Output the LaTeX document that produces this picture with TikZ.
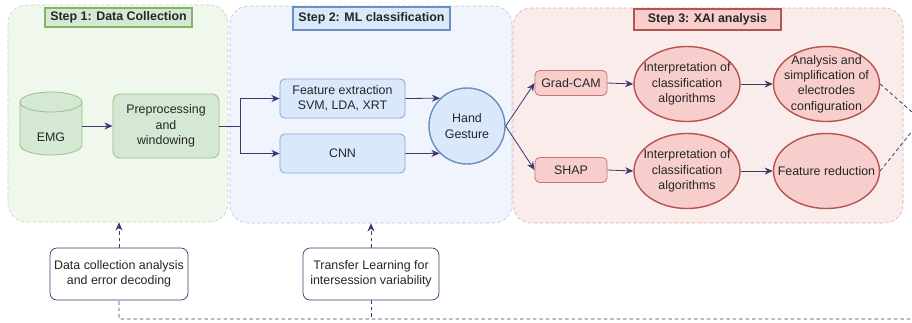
\documentclass[tikz,border=0pt]{standalone}
\usepackage{fontspec}
\setmainfont{Liberation Sans}
\usetikzlibrary{shapes.geometric,arrows.meta,positioning,calc}
\definecolor{greenfill}{HTML}{D5E8D4}
\definecolor{greenline}{HTML}{82B366}
\definecolor{greenbg}{HTML}{F0F7ED}
\definecolor{bluefill}{HTML}{DAE8FC}
\definecolor{blueline}{HTML}{6C8EBF}
\definecolor{bluebg}{HTML}{F0F4FC}
\definecolor{redfill}{HTML}{F8CECC}
\definecolor{redline}{HTML}{B85450}
\definecolor{redbg}{HTML}{FBECEC}
\definecolor{navy}{HTML}{3B3B6D}

\begin{document}
\begin{tikzpicture}
	[   x=0.03cm,y=-0.03cm,
		every node/.style={font=\fontsize{10.6}{13}\selectfont,align=center,text=black!85},
		panel/.style={draw=#1line!50,fill=#1bg,dash pattern=on 3pt off 2pt,rounded corners=0.55cm,line width=0.5pt},
		steptitle/.style={draw=#1line,fill=#1fill,line width=1pt,inner sep=0pt,font=\fontsize{10.6}{13}\selectfont\bfseries},
		sbox/.style={draw=#1line!80,fill=#1fill,rounded corners=4pt,line width=0.7pt,inner sep=0pt},
		enode/.style={draw=#1line,fill=#1fill,ellipse,line width=1.2pt,minimum width=3.18cm,minimum height=2.25cm,inner sep=0pt},
		notebox/.style={draw=navy,fill=white,rounded corners=6pt,line width=0.6pt,minimum width=4.14cm,minimum height=1.56cm},
	]
	\tikzset{normal arrow/.style={draw=navy,line width=0.7pt,-{Stealth[length=7pt,width=6pt]}},
		dash line/.style={draw=navy,line width=0.7pt,dash pattern=on 3pt off 2.5pt},
		dash arrow/.style={normal arrow,dash pattern=on 3pt off 2.5pt}}
	\useasboundingbox (0,0) rectangle (912,322);
	
	% the three steps
	\node[panel=green,minimum width=6.6cm,minimum height=6.51cm] (step1) at (118,113.5) {};
	\node[panel=blue,minimum width=8.46cm,minimum height=6.51cm] (step2) at (371,114.5) {};
	\node[panel=red,minimum width=11.7cm,minimum height=6.45cm] (step3) at (708,115.5) {};
	\node[steptitle=green,minimum width=4.41cm,minimum height=0.57cm] (title1) at (118.5,17.5) {Step 1: Data Collection};
	\node[steptitle=blue,minimum width=4.71cm,minimum height=0.69cm] (title2) at (371.5,18.5) {Step 2: ML classification};
	\node[steptitle=red,minimum width=4.41cm,minimum height=0.63cm] (title3) at (707.5,19.5) {Step 3: XAI analysis};
	
	% step 1 (EMG drawn as a drum)
	\node[inner sep=0pt,outer sep=0pt,minimum width=1.86cm,minimum height=1.89cm] (emg) at (51,123.5) {};
	\path[draw=greenline!80,fill=greenfill,line width=0.7pt] ([yshift=-0.3cm]emg.north west) -- ([yshift=0.3cm]emg.south west)
		arc (180:360:0.93cm and 0.3cm) -- ([yshift=-0.3cm]emg.north east) arc (0:180:0.93cm and 0.3cm) -- cycle;
	\draw[greenline!80,line width=0.7pt] ([yshift=-0.3cm]emg.north west) arc (180:360:0.93cm and 0.3cm);
	\node[yshift=-0.4cm] (emg-text) at (emg.center) {EMG};
	\node[sbox=green,rounded corners=6pt,minimum width=3.18cm,minimum height=1.92cm] (pre) at (166,126) {Preprocessing\\and\\windowing};
	
	% step 2
	\node[sbox=blue,minimum width=3.75cm,minimum height=1.17cm] (feat) at (342.5,98.5) {Feature extraction\\SVM, LDA, XRT};
	\node[sbox=blue,minimum width=3.75cm,minimum height=1.17cm] (cnn) at (342.5,153.5) {CNN};
	\node[circle,draw=blueline,fill=bluefill,line width=1.2pt,minimum size=2.28cm,inner sep=0pt] (hand) at (467,126) {Hand\\Gesture};
	
	% step 3
	\node[sbox=red,minimum width=2.16cm,minimum height=0.75cm] (grad) at (571,83) {Grad-CAM};
	\node[sbox=red,minimum width=2.16cm,minimum height=0.75cm] (shap) at (571,170) {SHAP};
	\node[enode=red,label=center:{Interpretation of\\classification\\algorithms}] (int1) at (687,84) {};
	\node[enode=red,label=center:{Interpretation of\\classification\\algorithms}] (int2) at (687,171) {};
	\node[enode=red,label=center:{Analysis and\\simplification of\\electrodes\\configuration}] (ana) at (826.5,84) {};
	\node[enode=red,label=center:{Feature reduction}] (red) at (826.5,171) {};
	
	% side studies
	\node[notebox] (dca) at (119,274) {Data collection analysis\\and error decoding};
	\node[notebox,minimum width=4.08cm] (tl) at (371,274) {Transfer Learning for\\intersession variability};
	
	% connectors
	\coordinate (split) at (240,126);
	\path[normal arrow] (pre.west -| emg.east) -- (pre.west);
	\draw[navy,line width=0.7pt] (pre.east) -- (split);
	\path[normal arrow] (split) |- (feat.west);
	\path[normal arrow] (split) |- (cnn.west);
	\path[normal arrow] (feat.east) -- (hand.134.7);
	\path[normal arrow] (cnn.east) -- (hand.225.3);
	\path[normal arrow] (hand.east) -- (grad.west);
	\path[normal arrow] (hand.east) -- (shap.west);
	\foreach \a/\b in {grad/int1,int1/ana,shap/int2,int2/red}
	{
		\path[normal arrow] (\a.east) -- (\b.west);
	}
	
	% feedback loop
	\coordinate (meet) at (921,120);
	\coordinate (corner) at (921,319);
	\draw[dash line] (ana.east) -- (meet) -- (corner) -- (dca.south |- corner) -- (dca.south);
	\draw[dash line] (red.east) -- (meet);
	\draw[dash line] (tl.south) -- (tl.south |- corner);
	\path[dash arrow] (dca.north) -- (dca.north |- step1.south);
	\path[dash arrow] (tl.north) -- (tl.north |- step2.south);
\end{tikzpicture}
\end{document}
